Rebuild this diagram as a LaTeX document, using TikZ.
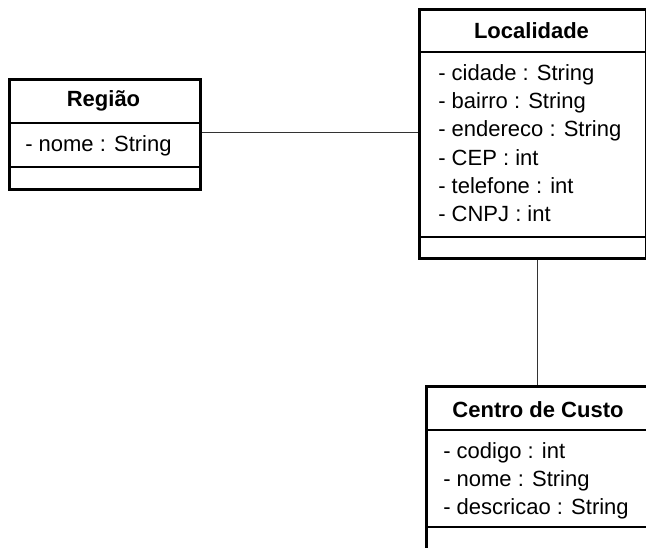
\documentclass[tikz,border=0pt]{standalone}
\usepackage{fontspec}
\setmainfont{Liberation Sans}
\usetikzlibrary{calc}
\tikzset{
  classbox/.style={draw=black, line width=2pt, fill=white, rectangle, inner sep=0pt, anchor=north west},
  sep/.style={draw=black, line width=0.8pt},
  title/.style={font=\fontsize{16.5}{19}\selectfont\bfseries, inner sep=0pt},
  attr/.style={font=\fontsize{16.5}{19}\selectfont, inner sep=0pt, anchor=west},
  assoc/.style={draw=black!80, line width=0.8pt}
}
\begin{document}
\begin{tikzpicture}[x=0.75pt,y=-0.75pt]
\useasboundingbox (0,0) rectangle (646,548);
\clip (0,0) rectangle (646,548);
\fill[white] (0,0) rectangle (646,548);

% Regiao
\node[classbox, minimum width=191*0.75pt, minimum height=110*0.75pt] (reg) at (8,78) {};
\draw[sep] (8,123) -- (199,123);
\draw[sep] (8,167) -- (199,167);
\node[title] (regt) at (103.5,101) {Região};
\node[attr] (rega1) at (25,146) {- nome : String};

% Localidade
\node[classbox, minimum width=227*0.75pt, minimum height=249*0.75pt] (loc) at (418,8) {};
\draw[sep] (418,52) -- (645,52);
\draw[sep] (418,237) -- (645,237);
\node[title] (loct) at (531.5,31) {Localidade};
\node[attr] (loca1) at (438,75) {- cidade : String};
\node[attr] (loca2) at (438,103) {- bairro : String};
\node[attr] (loca3) at (438,131) {- endereco : String};
\node[attr] (loca4) at (438,158) {- CEP : int};
\node[attr] (loca5) at (438,186) {- telefone : int};
\node[attr] (loca6) at (438,214) {- CNPJ : int};

% Centro de Custo
\node[classbox, minimum width=226*0.75pt, minimum height=180*0.75pt] (cc) at (425,385) {};
\draw[sep] (425,430) -- (651,430);
\draw[sep] (425,527) -- (651,527);
\node[title] (cct) at (538,410) {Centro de Custo};
\node[attr] (cca1) at (443,453) {- codigo : int};
\node[attr] (cca2) at (443,481) {- nome : String};
\node[attr] (cca3) at (443,509) {- descricao : String};

% Associations
\coordinate (r1) at ($(reg.east)+(0,-1.5)$);
\draw[assoc] (r1) -- (r1 -| loc.west);
\coordinate (l1) at ($(loc.south)+(4.5,0)$);
\draw[assoc] (l1) -- (l1 |- cc.north);
\end{tikzpicture}
\end{document}
